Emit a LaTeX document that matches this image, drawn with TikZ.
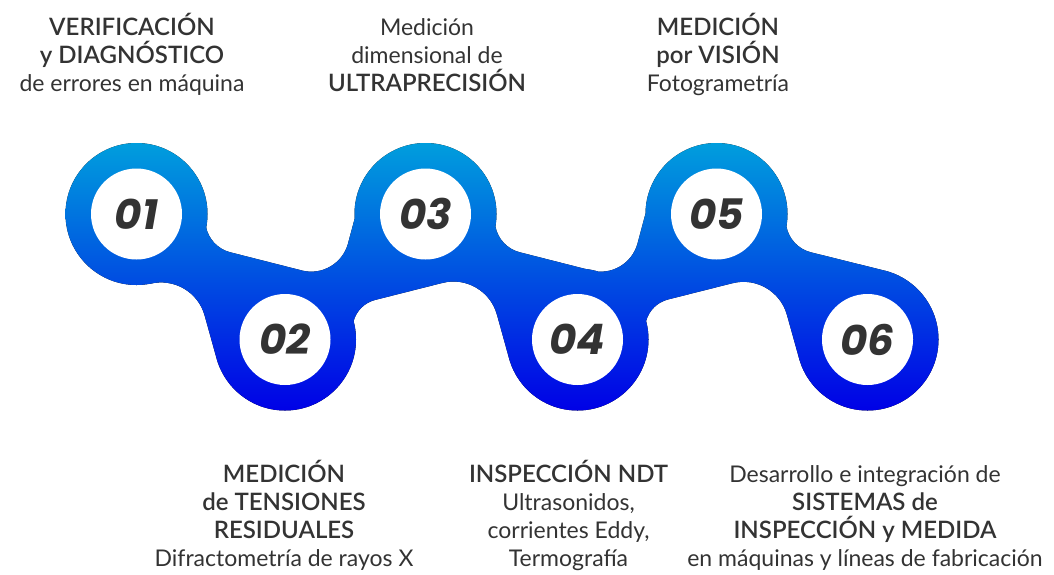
\documentclass[tikz,border=0pt]{standalone}
\usepackage{fontspec}
\setmainfont{Lato}
\newfontfamily\semib{Lato Semibold}
\newfontfamily\numfont{Poppins}
\definecolor{gtop}{RGB}{0,158,221}
\definecolor{gbot}{RGB}{0,0,230}
\definecolor{txt}{RGB}{51,51,51}
\tikzset{
  grad/.style={path picture={\fill[top color=gtop,bottom color=gbot] (0,143) rectangle (1054,411);}},
  inner/.style={circle, minimum size=91, inner sep=0, fill=white, text=txt,
    font=\numfont\fontsize{42}{42}\selectfont\bfseries\itshape},
  lbl/.style={anchor=base, inner sep=0, text=txt, font=\fontsize{23}{26}\selectfont},
  lblb/.style={anchor=base, inner sep=0, text=txt, font=\semib\fontsize{24}{26}\selectfont}
}
\begin{document}
\begin{tikzpicture}[x=1pt,y=-1pt]
\useasboundingbox (0,0) rectangle (1054,574);
% centres
\coordinate (c1) at (136.5,214);
\coordinate (c2) at (285,339.5);
\coordinate (c3) at (425.5,214);
\coordinate (c4) at (577.5,339.5);
\coordinate (c5) at (716.5,214);
\coordinate (c6) at (867.5,339.5);
% circles and connecting band as one shape (same orientation, nonzero rule)
\path[grad]
  ([xshift=71pt]c1) arc[start angle=0, end angle=360, radius=71]
  ([xshift=71pt]c2) arc[start angle=0, end angle=360, radius=71]
  ([xshift=71pt]c3) arc[start angle=0, end angle=360, radius=71]
  ([xshift=71pt]c4) arc[start angle=0, end angle=360, radius=71]
  ([xshift=71pt]c5) arc[start angle=0, end angle=360, radius=71]
  ([xshift=71pt]c6) arc[start angle=0, end angle=360, radius=71]
  (136.5,214) -- (205.9,226.3)
  .. controls (208.2,238.9) and (217.7,249.0) .. (230.0,252.2) -- (302.0,270.5)
  .. controls (322.1,275.6) and (342.6,263.5) .. (348.0,243.5) -- (358.3,205)
  -- (425.5,214) -- (495.4,226.3)
  .. controls (497.7,238.9) and (507.2,249.0) .. (519.5,252.2) -- (591.5,270.5)
  .. controls (611.6,275.6) and (632.1,263.5) .. (637.5,243.5) -- (647.8,205)
  -- (716.5,214) -- (786.4,226.3)
  .. controls (788.7,238.9) and (798.2,249.0) .. (810.5,252.2) -- (885.0,270.7)
  -- (867.5,339.5) -- (799.1,358.5) -- (786.9,314.8)
  .. controls (780.4,291.3) and (756.1,277.2) .. (732.5,283.2) -- (667.9,299.5)
  .. controls (657.3,302.2) and (648.9,310.5) .. (646.1,321.1)
  -- (577.5,339.5) -- (509.1,358.5) -- (496.9,314.5)
  .. controls (490.4,291.0) and (466.1,276.9) .. (442.5,282.9) -- (374.9,300.0)
  .. controls (364.5,302.7) and (356.4,310.7) .. (353.6,321.1)
  -- (285,339.5) -- (216.6,358.5) -- (204.6,315.4)
  .. controls (198.1,291.9) and (173.8,277.8) .. (150.2,283.8) -- cycle;
% number discs
\node[inner] (n1) at (c1) {01};
\node[inner] (n2) at (c2) {02};
\node[inner] (n3) at (c3) {03};
\node[inner] (n4) at (c4) {04};
\node[inner] (n5) at (c5) {05};
\node[inner] (n6) at (c6) {06};
% labels top
\node[lblb] (t1a) at (132,35.5) {VERIFICACIÓN};
\node[lblb] (t1b) at (132,63.5) {y DIAGNÓSTICO};
\node[lbl]  (t1c) at (132,91.5) {de errores en máquina};
\node[lbl]  (t3a) at (427,35.5) {Medición};
\node[lbl]  (t3b) at (427,63.5) {dimensional de};
\node[lblb] (t3c) at (427,91.5) {ULTRAPRECISIÓN};
\node[lblb] (t5a) at (718,35.5) {MEDICIÓN};
\node[lblb] (t5b) at (718,63.5) {por VISIÓN};
\node[lbl]  (t5c) at (718,91.5) {Fotogrametría};
% labels bottom
\node[lblb] (t2a) at (284,482.5) {MEDICIÓN};
\node[lblb] (t2b) at (284,510.5) {de TENSIONES};
\node[lblb] (t2c) at (284,538.5) {RESIDUALES};
\node[lbl]  (t2d) at (284,566.5) {Difractometría de rayos X};
\node[lblb] (t4a) at (568.5,482.5) {INSPECCIÓN NDT};
\node[lbl]  (t4b) at (568.5,510.5) {Ultrasonidos,};
\node[lbl]  (t4c) at (568.5,538.5) {corrientes Eddy,};
\node[lbl]  (t4d) at (568.5,566.5) {Termografía};
\node[lbl]  (t6a) at (865,482.5) {Desarrollo e integración de};
\node[lblb] (t6b) at (865,510.5) {SISTEMAS de};
\node[lblb] (t6c) at (865,538.5) {INSPECCIÓN y MEDIDA};
\node[lbl]  (t6d) at (865,566.5) {en máquinas y líneas de fabricación};
\end{tikzpicture}
\end{document}
